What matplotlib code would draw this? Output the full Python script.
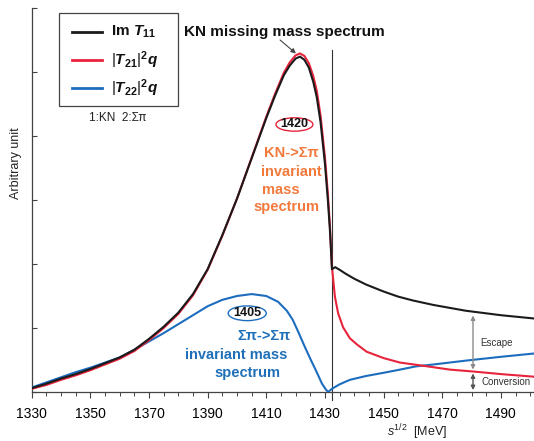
import numpy as np
import matplotlib
matplotlib.use("Agg")
import matplotlib.pyplot as plt
from matplotlib.patches import Ellipse, Rectangle, FancyArrowPatch
from matplotlib.lines import Line2D

plt.rcParams['font.family'] = ['Liberation Sans', 'DejaVu Sans']
plt.rcParams['mathtext.fontset'] = 'custom'
plt.rcParams['mathtext.rm'] = 'Liberation Sans'
plt.rcParams['mathtext.it'] = 'Liberation Sans:italic'
plt.rcParams['mathtext.bf'] = 'Liberation Sans:bold'
plt.rcParams['mathtext.bfit'] = 'Liberation Sans:bold:italic'
plt.rcParams['mathtext.sf'] = 'Liberation Sans'

# ---- spectra (arbitrary units) vs. sqrt(s) in MeV ----
threshold = 1432.4

mass_im_t11 = [1330, 1335, 1340, 1345, 1350, 1355, 1360, 1365, 1370, 1375, 1380, 1385,
               1390, 1395, 1400, 1405, 1410, 1413, 1416, 1418, 1420, 1421.5, 1423,
               1424.5, 1426, 1427.2, 1428.5, 1430, 1431, 1431.7, 1432.4, 1433.5, 1435,
               1437, 1440, 1444, 1450, 1455, 1460, 1467, 1478, 1490, 1501]
im_t11 = [0.06, 0.13, 0.21, 0.28, 0.36, 0.45, 0.54, 0.66, 0.83, 1.02, 1.24, 1.53,
          1.92, 2.45, 3.02, 3.65, 4.28, 4.63, 4.95, 5.10, 5.21, 5.24, 5.19,
          5.07, 4.85, 4.61, 4.22, 3.57, 3.00, 2.53, 1.92, 1.95, 1.91,
          1.85, 1.77, 1.68, 1.57, 1.49, 1.43, 1.36, 1.27, 1.20, 1.15]

mass_t21 = [1330, 1335, 1340, 1345, 1350, 1355, 1360, 1365, 1370, 1375, 1380, 1385,
            1390, 1395, 1400, 1405, 1410, 1413, 1416, 1418, 1420, 1421.5, 1423,
            1424.5, 1426, 1427.2, 1428.5, 1430, 1431, 1431.7, 1432.4, 1433.4, 1434.5,
            1436.2, 1438.5, 1441, 1444.2, 1450, 1455.6, 1463.5, 1472.6, 1480.6, 1490,
            1501]
t21_sq_q = [0.05, 0.11, 0.19, 0.26, 0.34, 0.43, 0.52, 0.64, 0.81, 1.00, 1.22, 1.51,
            1.91, 2.44, 3.02, 3.66, 4.30, 4.66, 4.99, 5.15, 5.26, 5.29, 5.25,
            5.14, 4.94, 4.71, 4.32, 3.67, 3.10, 2.60, 1.95, 1.49, 1.23,
            1.01, 0.84, 0.74, 0.63, 0.53, 0.46, 0.41, 0.35, 0.32, 0.28,
            0.24]

mass_t22 = [1330, 1335, 1340, 1345, 1350, 1355, 1360, 1365, 1370, 1375, 1380, 1385,
            1390, 1395, 1400, 1405, 1410, 1414, 1417, 1419, 1421, 1423, 1425, 1427,
            1429, 1430.3, 1431.1, 1432.4, 1433.5, 1435, 1438.5, 1444, 1450, 1455.6,
            1461, 1467, 1478, 1490, 1501]
t22_sq_q = [0.07, 0.15, 0.23, 0.31, 0.38, 0.46, 0.54, 0.66, 0.79, 0.92, 1.06, 1.20,
            1.34, 1.44, 1.50, 1.53, 1.50, 1.41, 1.27, 1.13, 0.93, 0.72, 0.52, 0.33,
            0.13, 0.04, 0.00, 0.05, 0.08, 0.12, 0.19, 0.25, 0.30, 0.35,
            0.40, 0.43, 0.49, 0.55, 0.60]

x_ticks = [1330, 1350, 1370, 1390, 1410, 1430, 1450, 1470, 1490]
x_tick_labels = [str(t) for t in x_ticks]
series_labels = [r'$\mathbf{Im}\ \mathbfit{T}_{\mathbf{11}}$',
                 r'$|\mathbfit{T}_{\mathbf{21}}|^{\mathbf{2}}\mathbfit{q}$',
                 r'$|\mathbfit{T}_{\mathbf{22}}|^{\mathbf{2}}\mathbfit{q}$']

c_black = '#1c1a1b'
c_red = '#e8243c'
c_blue = '#1d6dbf'
c_orange = '#f27a3c'
c_bluetext = '#1f70b8'

W, H = 534, 441
fig = plt.figure(figsize=(W / 100, H / 100), dpi=100)
ax = fig.add_axes([31.7 / W, (H - 392) / H, 1 - 31.7 / W, 384 / H])
ax.set_xlim(1330, 1501.3)
ax.set_ylim(0, 6)

ax.plot(mass_t22, t22_sq_q, color=c_blue, lw=1.5, zorder=3)
ax.plot(mass_t21, t21_sq_q, color=c_red, lw=1.5, zorder=4)
ax.plot(mass_im_t11, im_t11, color=c_black, lw=1.5, zorder=5)

# K-bar N threshold
ax.plot([threshold, threshold], [-0.13, 5.34], color='#333333', lw=0.8,
        clip_on=False, zorder=2)

# axes styling
for s in ('top', 'right'):
    ax.spines[s].set_visible(False)
for s in ('left', 'bottom'):
    ax.spines[s].set_color('#444444')
    ax.spines[s].set_linewidth(0.9)
ax.set_xticks(x_ticks)
ax.set_xticklabels(x_tick_labels, fontsize=10)
ax.set_xticks(np.arange(1330, 1501, 5), minor=True)
ax.tick_params(axis='x', which='major', direction='out', length=4.5, width=0.8,
               color='#444444', pad=6.5)
ax.tick_params(axis='x', which='minor', direction='out', length=3, width=0.7,
               color='#444444')
ax.set_yticks(np.arange(0, 7, 1))
ax.set_yticklabels([])
ax.tick_params(axis='y', which='major', direction='in', length=3.5, width=0.8,
               color='#444444')

fig.text(16 / W, 1 - 163 / H, 'Arbitrary unit', rotation=90, ha='center',
         va='center', fontsize=9, color='#222222')
fig.text(417 / W, 1 - 432 / H, r'$\mathit{s}^{1/2}$  [MeV]', ha='center',
         va='center', fontsize=9, color='#222222')

# legend box drawn in figure pixels
def fpx(x, y):
    return x / W, 1 - y / H

x0, y0 = fpx(59, 106)
x1, y1 = fpx(178, 13)
fig.add_artist(Rectangle((x0, y0), x1 - x0, y1 - y0, transform=fig.transFigure,
                         facecolor='white', edgecolor='#444444', lw=0.9, zorder=10))
for ypix, col, lab in zip([32, 60, 88], [c_black, c_red, c_blue], series_labels):
    a = fpx(72, ypix)
    b = fpx(102, ypix)
    fig.add_artist(Line2D([a[0], b[0]], [a[1], b[1]], transform=fig.transFigure,
                          color=col, lw=2, zorder=11))
    tx, ty = fpx(111, ypix)
    fig.text(tx, ty, lab, fontsize=11, va='center', ha='left', color='#111111',
             zorder=11)
tx, ty = fpx(118, 118)
fig.text(tx, ty, '1:KN  2:Σπ', fontsize=8.5, ha='center', va='center', color='#222222')

# annotations
ax.text(1416.2, 5.63, 'KN missing mass spectrum', ha='center', va='center',
        fontsize=11, fontweight='bold', color='#111111')
ax.add_patch(FancyArrowPatch((1414.7, 5.50), (1420.1, 5.29), arrowstyle='-|>',
                             color='#444444', lw=0.8, mutation_scale=7,
                             shrinkA=0, shrinkB=0, zorder=8))

ax.add_patch(Ellipse((1419.6, 4.18), 12.6, 0.21, facecolor='white', edgecolor=c_red,
                     lw=1.0, zorder=6))
ax.text(1419.6, 4.18, '1420', ha='center', va='center', fontsize=9,
        fontweight='bold', color='#111111', zorder=7)
for xx, yy, s in [(1418.4, 3.73, 'KN->Σπ'), (1418.4, 3.43, 'invariant'),
                  (1415.0, 3.16, 'mass'), (1417.0, 2.89, 'spectrum')]:
    ax.text(xx, yy, s, ha='center', va='center', fontsize=10.5, fontweight='bold',
            color=c_orange, zorder=7)

ax.add_patch(Ellipse((1403.5, 1.23), 13.0, 0.23, facecolor='white', edgecolor=c_blue,
                     lw=1.0, zorder=6))
ax.text(1403.5, 1.23, '1405', ha='center', va='center', fontsize=9,
        fontweight='bold', color='#111111', zorder=7)
for xx, yy, s in [(1409.3, 0.875, 'Σπ->Σπ'), (1399.8, 0.58, 'invariant mass'),
                  (1403.7, 0.30, 'spectrum')]:
    ax.text(xx, yy, s, ha='center', va='center', fontsize=10.5, fontweight='bold',
            color=c_bluetext, zorder=7)

# escape / conversion widths
x_arr = 1480.5
y_black = np.interp(x_arr, mass_im_t11, im_t11)
y_red = np.interp(x_arr, mass_t21, t21_sq_q)
ax.annotate('', xy=(x_arr, y_black - 0.06), xytext=(x_arr, y_red + 0.03),
            arrowprops=dict(arrowstyle='<|-|>', color='#8a8a8a', lw=1.0,
                            mutation_scale=6, shrinkA=0, shrinkB=0))
ax.annotate('', xy=(x_arr, y_red - 0.03), xytext=(x_arr, 0.03),
            arrowprops=dict(arrowstyle='<|-|>', color='#555555', lw=1.0,
                            mutation_scale=6, shrinkA=0, shrinkB=0))
ax.text(x_arr + 2.5, (y_black + y_red) / 2 - 0.03, 'Escape', fontsize=7,
        va='center', ha='left', color='#333333')
ax.text(x_arr + 3.0, y_red / 2, 'Conversion', fontsize=7, va='center', ha='left',
        color='#333333')

fig.savefig('out.png', dpi=100)
